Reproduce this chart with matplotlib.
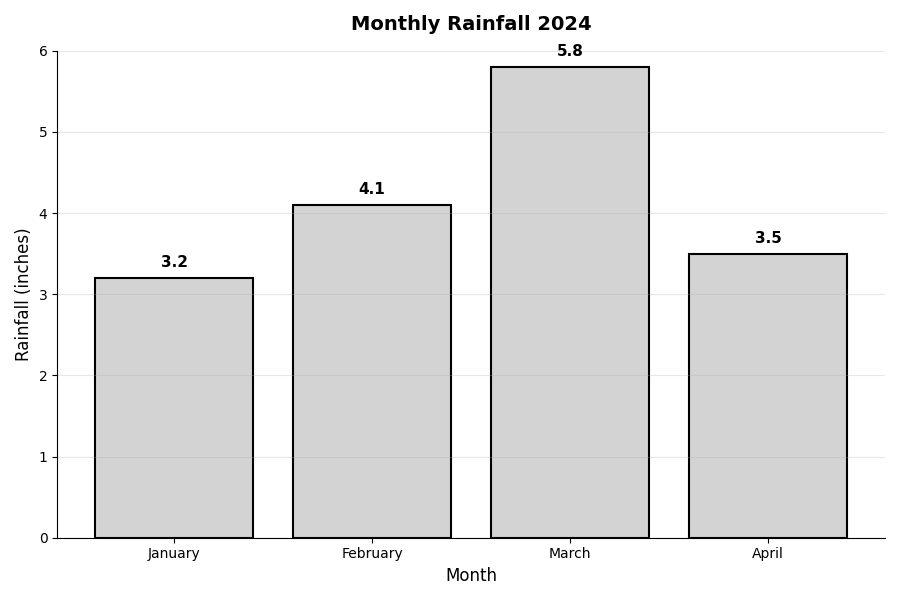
import matplotlib
matplotlib.use('Agg')
from matplotlib import pyplot as plt

months = ['January', 'February', 'March', 'April']
rainfall = [3.2, 4.1, 5.8, 3.5]

fig, ax = plt.subplots(figsize=(9, 6), dpi=100)
bars = ax.bar(months, rainfall, color='lightgray', edgecolor='black', linewidth=1.5)

# value labels on top of each bar
for bar, val in zip(bars, rainfall):
    ax.text(bar.get_x() + bar.get_width() / 2, val + 0.1, f'{val}',
            ha='center', va='bottom', fontsize=11, fontweight='bold')

ax.set_title('Monthly Rainfall 2024', fontsize=14, fontweight='bold', pad=15)
ax.set_xlabel('Month', fontsize=12)
ax.set_ylabel('Rainfall (inches)', fontsize=12)
ax.set_ylim(0, 6)
ax.grid(True, axis='y', alpha=0.3, linewidth=0.8)
ax.spines['top'].set_visible(False)
ax.spines['right'].set_visible(False)

plt.tight_layout()
plt.savefig('out.png')
